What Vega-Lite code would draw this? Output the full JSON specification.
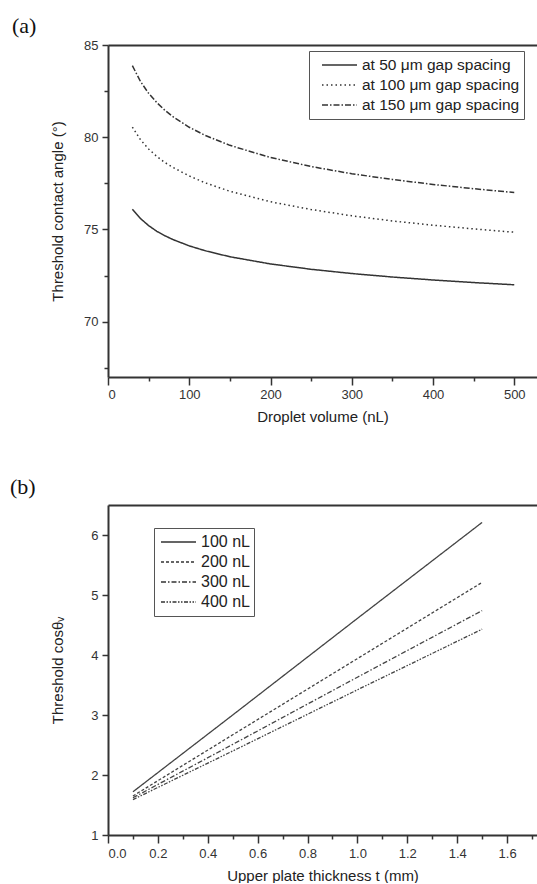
{
  "$schema": "https://vega.github.io/schema/vega-lite/v6.json",
  "padding": {"left": 10, "top": 15, "right": 0, "bottom": 0},
  "background": "white",
  "spacing": 52,
  "resolve": {"scale": {"strokeDash": "independent"}, "legend": {"strokeDash": "independent"}},
  "config": {
    "font": "Liberation Sans",
    "view": {"stroke": null},
    "axis": {
      "grid": false, "domainColor": "#333", "domainWidth": 2, "tickColor": "#333", "tickWidth": 1.5,
      "labelFontSize": 13, "labelColor": "#333", "labelFont": "Liberation Sans",
      "titleFontSize": 15, "titleFontWeight": "normal", "titleColor": "#222", "titleFont": "Liberation Sans"
    },
    "legend": {
      "orient": "none", "strokeColor": "#555", "fillColor": "white", "padding": 4, "clipHeight": 20,
      "symbolType": "stroke", "symbolSize": 1225, "symbolStrokeWidth": 1.5, "symbolStrokeColor": "#333",
      "labelFontSize": 15, "labelColor": "#222", "labelFont": "Liberation Sans", "labelOffset": 4, "rowPadding": 0
    },
    "title": {"font": "Liberation Serif", "fontSize": 22, "fontWeight": "normal", "anchor": "start", "color": "#111", "frame": "group"}
  },
  "vconcat": [
    {
      "width": 429, "height": 332,
      "title": {"text": "(a)", "dx": -96, "offset": 1},
      "resolve": {"axis": {"x": "independent", "y": "independent"}},
      "data": {"values": [
        {"V": 30, "series": "at 50 μm gap spacing", "y": 76.10},
        {"V": 40, "series": "at 50 μm gap spacing", "y": 75.59},
        {"V": 50, "series": "at 50 μm gap spacing", "y": 75.21},
        {"V": 60, "series": "at 50 μm gap spacing", "y": 74.90},
        {"V": 70, "series": "at 50 μm gap spacing", "y": 74.66},
        {"V": 80, "series": "at 50 μm gap spacing", "y": 74.45},
        {"V": 100, "series": "at 50 μm gap spacing", "y": 74.11},
        {"V": 120, "series": "at 50 μm gap spacing", "y": 73.84},
        {"V": 150, "series": "at 50 μm gap spacing", "y": 73.52},
        {"V": 200, "series": "at 50 μm gap spacing", "y": 73.13},
        {"V": 250, "series": "at 50 μm gap spacing", "y": 72.84},
        {"V": 300, "series": "at 50 μm gap spacing", "y": 72.61},
        {"V": 350, "series": "at 50 μm gap spacing", "y": 72.42},
        {"V": 400, "series": "at 50 μm gap spacing", "y": 72.26},
        {"V": 450, "series": "at 50 μm gap spacing", "y": 72.12},
        {"V": 500, "series": "at 50 μm gap spacing", "y": 72.00},
        {"V": 30, "series": "at 100 μm gap spacing", "y": 80.55},
        {"V": 40, "series": "at 100 μm gap spacing", "y": 79.86},
        {"V": 50, "series": "at 100 μm gap spacing", "y": 79.36},
        {"V": 60, "series": "at 100 μm gap spacing", "y": 78.96},
        {"V": 70, "series": "at 100 μm gap spacing", "y": 78.63},
        {"V": 80, "series": "at 100 μm gap spacing", "y": 78.36},
        {"V": 100, "series": "at 100 μm gap spacing", "y": 77.90},
        {"V": 120, "series": "at 100 μm gap spacing", "y": 77.52},
        {"V": 150, "series": "at 100 μm gap spacing", "y": 77.07},
        {"V": 200, "series": "at 100 μm gap spacing", "y": 76.50},
        {"V": 250, "series": "at 100 μm gap spacing", "y": 76.08},
        {"V": 300, "series": "at 100 μm gap spacing", "y": 75.74},
        {"V": 350, "series": "at 100 μm gap spacing", "y": 75.46},
        {"V": 400, "series": "at 100 μm gap spacing", "y": 75.23},
        {"V": 450, "series": "at 100 μm gap spacing", "y": 75.03},
        {"V": 500, "series": "at 100 μm gap spacing", "y": 74.85},
        {"V": 30, "series": "at 150 μm gap spacing", "y": 83.88},
        {"V": 40, "series": "at 150 μm gap spacing", "y": 83.02},
        {"V": 50, "series": "at 150 μm gap spacing", "y": 82.38},
        {"V": 60, "series": "at 150 μm gap spacing", "y": 81.88},
        {"V": 70, "series": "at 150 μm gap spacing", "y": 81.46},
        {"V": 80, "series": "at 150 μm gap spacing", "y": 81.11},
        {"V": 100, "series": "at 150 μm gap spacing", "y": 80.54},
        {"V": 120, "series": "at 150 μm gap spacing", "y": 80.09},
        {"V": 150, "series": "at 150 μm gap spacing", "y": 79.56},
        {"V": 200, "series": "at 150 μm gap spacing", "y": 78.90},
        {"V": 250, "series": "at 150 μm gap spacing", "y": 78.41},
        {"V": 300, "series": "at 150 μm gap spacing", "y": 78.02},
        {"V": 350, "series": "at 150 μm gap spacing", "y": 77.71},
        {"V": 400, "series": "at 150 μm gap spacing", "y": 77.44},
        {"V": 450, "series": "at 150 μm gap spacing", "y": 77.21},
        {"V": 500, "series": "at 150 μm gap spacing", "y": 77.00}
      ]},
      "layer": [
        {
          "mark": {"type": "line", "strokeWidth": 1.5, "color": "#333", "clip": true},
          "encoding": {
            "x": {
              "field": "V", "type": "quantitative",
              "scale": {"domain": [0, 528], "nice": false, "zero": false},
              "axis": {
                "title": "Droplet volume (nL)",
                "values": [0, 50, 100, 150, 200, 250, 300, 350, 400, 450, 500],
                "labelExpr": "datum.value % 100 === 0 ? datum.label : ''",
                "tickSize": {"condition": {"test": "datum.value % 100 === 0", "value": 8}, "value": 4},
                "labelPadding": 3, "titlePadding": 8
              }
            },
            "y": {
              "field": "y", "type": "quantitative",
              "scale": {"domain": [67, 85], "nice": false, "zero": false},
              "axis": {
                "title": "Threshold contact angle (°)",
                "values": [67.5, 70, 72.5, 75, 77.5, 80, 82.5, 85],
                "labelExpr": "datum.value % 5 === 0 ? datum.label : ''",
                "tickSize": {"condition": {"test": "datum.value % 5 === 0", "value": 6}, "value": 4},
                "labelPadding": 4, "titlePadding": 4, "minExtent": 39, "maxExtent": 39
              }
            },
            "strokeDash": {
              "field": "series", "type": "nominal",
              "scale": {
                "domain": ["at 50 μm gap spacing", "at 100 μm gap spacing", "at 150 μm gap spacing"],
                "range": [[1, 0], [1.5, 3], [6, 2, 1.5, 2]]
              },
              "legend": {"title": null, "legendX": 201, "legendY": 6, "symbolOffset": 8, "labelFontSize": 15.5, "labelExpr": "datum.label + '\u00a0\u00a0\u00a0'"}
            }
          }
        },
        {
          "mark": {"type": "line", "opacity": 0},
          "encoding": {
            "x": {
              "field": "V", "type": "quantitative",
              "scale": {"domain": [0, 528], "nice": false, "zero": false},
              "axis": {"orient": "top", "labels": false, "ticks": false, "title": null}
            },
            "y": {"field": "y", "type": "quantitative", "axis": null, "scale": {"domain": [67, 85], "nice": false, "zero": false}}
          }
        }
      ]
    },
    {
      "width": 429, "height": 330,
      "title": {"text": "(b)", "dx": -98, "offset": 6},
      "resolve": {"axis": {"x": "independent", "y": "independent"}},
      "data": {"values": [
        {"t": 0.1, "series": "100 nL", "c": 1.72},
        {"t": 0.5, "series": "100 nL", "c": 3.00},
        {"t": 1.0, "series": "100 nL", "c": 4.61},
        {"t": 1.5, "series": "100 nL", "c": 6.21},
        {"t": 0.1, "series": "200 nL", "c": 1.65},
        {"t": 0.5, "series": "200 nL", "c": 2.67},
        {"t": 1.0, "series": "200 nL", "c": 3.94},
        {"t": 1.5, "series": "200 nL", "c": 5.21},
        {"t": 0.1, "series": "300 nL", "c": 1.62},
        {"t": 0.5, "series": "300 nL", "c": 2.51},
        {"t": 1.0, "series": "300 nL", "c": 3.63},
        {"t": 1.5, "series": "300 nL", "c": 4.74},
        {"t": 0.1, "series": "400 nL", "c": 1.59},
        {"t": 0.5, "series": "400 nL", "c": 2.40},
        {"t": 1.0, "series": "400 nL", "c": 3.42},
        {"t": 1.5, "series": "400 nL", "c": 4.43}
      ]},
      "layer": [
        {
          "mark": {"type": "line", "strokeWidth": 1.3, "color": "#444", "clip": true},
          "encoding": {
            "x": {
              "field": "t", "type": "quantitative",
              "scale": {"domain": [0, 1.72], "nice": false, "zero": false},
              "axis": {
                "title": "Upper plate thickness t (mm)", "format": ".1f",
                "values": [0, 0.1, 0.2, 0.3, 0.4, 0.5, 0.6, 0.7, 0.8, 0.9, 1.0, 1.1, 1.2, 1.3, 1.4, 1.5, 1.6, 1.7],
                "labelExpr": "abs(datum.value*5 - round(datum.value*5)) < 0.001 ? datum.label : ''",
                "tickSize": {"condition": {"test": "abs(datum.value*5 - round(datum.value*5)) < 0.001", "value": 8}, "value": 4},
                "labelPadding": 4, "titlePadding": 8
              }
            },
            "y": {
              "field": "c", "type": "quantitative",
              "scale": {"domain": [1, 6.5], "nice": false, "zero": false},
              "axis": {
                "title": "Threshold cosθᵥ", "format": "d",
                "values": [1, 1.5, 2, 2.5, 3, 3.5, 4, 4.5, 5, 5.5, 6, 6.5],
                "labelExpr": "datum.value % 1 === 0 ? datum.label : ''",
                "tickSize": {"condition": {"test": "datum.value % 1 === 0", "value": 6}, "value": 4},
                "labelPadding": 4, "titlePadding": 4, "minExtent": 39, "maxExtent": 39
              }
            },
            "strokeDash": {
              "field": "series", "type": "nominal",
              "scale": {
                "domain": ["100 nL", "200 nL", "300 nL", "400 nL"],
                "range": [[1, 0], [3, 2], [5, 2, 1.5, 2], [4, 1.5, 1.5, 1.5, 1.5, 1.5]]
              },
              "legend": {"title": null, "legendX": 46, "legendY": 23, "symbolOffset": 2, "labelFontSize": 16}
            }
          }
        },
        {
          "mark": {"type": "line", "opacity": 0},
          "encoding": {
            "x": {
              "field": "t", "type": "quantitative",
              "scale": {"domain": [0, 1.72], "nice": false, "zero": false},
              "axis": {"orient": "top", "labels": false, "ticks": false, "title": null}
            },
            "y": {"field": "c", "type": "quantitative", "axis": null, "scale": {"domain": [1, 6.5], "nice": false, "zero": false}}
          }
        }
      ]
    }
  ]
}
